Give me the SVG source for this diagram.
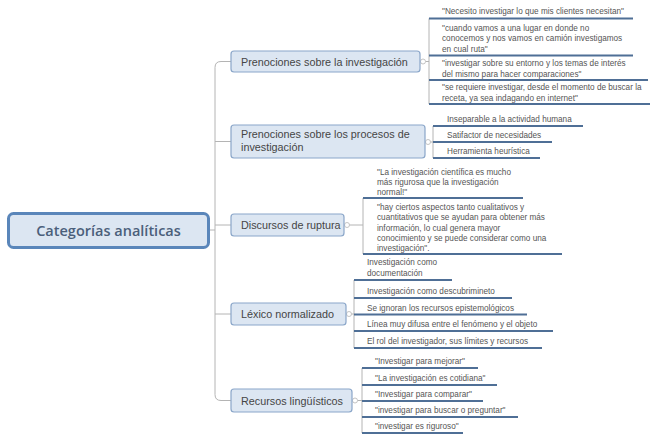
<svg xmlns="http://www.w3.org/2000/svg" width="655" height="435" viewBox="0 0 655 435">
<style>
.bg{fill:#ffffff}
.root rect{fill:#dce6f2;stroke:#5a86ba;stroke-width:3}
.root text{font-family:"Open Sans","Liberation Sans",sans-serif;font-weight:600;font-size:14.5px;fill:#4b5f7b;text-anchor:middle}
.br rect{fill:#dce6f2;stroke:#8aa6c9;stroke-width:1.2}
.br text{font-family:"Liberation Sans","Open Sans",sans-serif;font-size:10.8px;fill:#454545}
.lf text{font-family:"Liberation Sans","Open Sans",sans-serif;font-size:8.2px;fill:#555555}
.lf line{stroke:#4f6f96;stroke-width:2}
.con path,.con line{fill:none;stroke:#b4b4b4;stroke-width:1}
.con circle{fill:#ffffff;stroke:#c4c4c4;stroke-width:1}
</style>
<rect class="bg" x="0" y="0" width="655" height="435"/>
<g id="connectors" class="con">
  <line x1="209" y1="230" x2="215" y2="230"/>
  <path d="M231 61.5 H221 Q215 61.5 215 67.5 V394.5 Q215 400.5 221 400.5 H231"/>
  <line x1="215" y1="141.5" x2="231" y2="141.5"/>
  <line x1="215" y1="225" x2="231" y2="225"/>
  <line x1="215" y1="314" x2="231" y2="314"/>
  <line x1="423" y1="61.5" x2="429" y2="61.5"/>
  <line x1="429" y1="18.5" x2="429" y2="104"/>
  <circle cx="423" cy="61.5" r="2.5"/>
  <line x1="428" y1="142" x2="433" y2="142"/>
  <line x1="433" y1="126" x2="433" y2="158"/>
  <circle cx="428" cy="142" r="2.5"/>
  <line x1="347" y1="225" x2="363" y2="225"/>
  <line x1="363" y1="198" x2="363" y2="254"/>
  <circle cx="347" cy="225" r="2.5"/>
  <line x1="349" y1="314" x2="354" y2="314"/>
  <line x1="354" y1="280" x2="354" y2="348"/>
  <circle cx="349" cy="314" r="2.5"/>
  <line x1="355" y1="400.5" x2="362" y2="400.5"/>
  <line x1="362" y1="368" x2="362" y2="433"/>
  <circle cx="355" cy="400.5" r="2.5"/>
</g>
<g id="root" class="root">
  <rect x="8.5" y="213.5" width="200" height="34" rx="5"/>
  <text x="108.5" y="235.5">Categorías analíticas</text>
</g>
<g id="b1" class="br">
  <rect x="231" y="51" width="189" height="21" rx="3"/>
  <text x="241" y="65.5">Prenociones sobre la investigación</text>
</g>
<g id="b2" class="br">
  <rect x="231" y="125" width="194" height="33" rx="3"/>
  <text x="241" y="138">Prenociones sobre los procesos de</text>
  <text x="241" y="151">investigación</text>
</g>
<g id="b3" class="br">
  <rect x="231" y="214" width="113" height="22" rx="3"/>
  <text x="241" y="229">Discursos de ruptura</text>
</g>
<g id="b4" class="br">
  <rect x="231" y="303" width="115" height="22" rx="3"/>
  <text x="241" y="318">Léxico normalizado</text>
</g>
<g id="b5" class="br">
  <rect x="231" y="389" width="121" height="23" rx="3"/>
  <text x="241" y="404.5">Recursos lingüísticos</text>
</g>
<g id="l1a" class="lf"><text x="442" y="14">"Necesito investigar lo que mis clientes necesitan"</text><line x1="429" y1="18.5" x2="633" y2="18.5"/></g>
<g id="l1b" class="lf"><text x="442" y="30.5">"cuando vamos a una lugar en donde no</text><text x="442" y="41">conocemos y nos vamos en camión investigamos</text><text x="442" y="51.5">en cual ruta"</text><line x1="429" y1="55.5" x2="633" y2="55.5"/></g>
<g id="l1c" class="lf"><text x="442" y="66">"investigar sobre su entorno y los temas de interés</text><text x="442" y="76.5">del mismo para hacer comparaciones"</text><line x1="429" y1="80" x2="648" y2="80"/></g>
<g id="l1d" class="lf"><text x="442" y="90">"se requiere investigar, desde el momento de buscar la</text><text x="442" y="100.5">receta, ya sea indagando en internet"</text><line x1="429" y1="104" x2="650" y2="104"/></g>
<g id="l2a" class="lf"><text x="447" y="122">Inseparable a la actividad humana</text><line x1="433" y1="126" x2="583" y2="126"/></g>
<g id="l2b" class="lf"><text x="447" y="138">Satifactor de necesidades</text><line x1="433" y1="142" x2="552" y2="142"/></g>
<g id="l2c" class="lf"><text x="447" y="154">Herramienta heurística</text><line x1="433" y1="158" x2="540" y2="158"/></g>
<g id="l3a" class="lf"><text x="377" y="175">"La investigación científica es mucho</text><text x="377" y="185">más rigurosa que la investigación</text><text x="377" y="195">normal!"</text><line x1="363" y1="198" x2="523" y2="198"/></g>
<g id="l3b" class="lf"><text x="377" y="209.5">"hay ciertos aspectos tanto cualitativos y</text><text x="377" y="220">cuantitativos que se ayudan para obtener más</text><text x="377" y="230.5">información, lo cual genera mayor</text><text x="377" y="241">conocimiento y se puede considerar como una</text><text x="377" y="251">investigación".</text><line x1="363" y1="254" x2="562" y2="254"/></g>
<g id="l4a" class="lf"><text x="367" y="265">Investigación como</text><text x="367" y="276">documentación</text><line x1="354" y1="280" x2="452" y2="280"/></g>
<g id="l4b" class="lf"><text x="367" y="294">Investigación como descubrimineto</text><line x1="354" y1="298" x2="512" y2="298"/></g>
<g id="l4c" class="lf"><text x="367" y="310.5">Se ignoran los recursos epistemológicos</text><line x1="354" y1="314.5" x2="527" y2="314.5"/></g>
<g id="l4d" class="lf"><text x="367" y="327">Línea muy difusa entre el fenómeno y el objeto</text><line x1="354" y1="331" x2="553" y2="331"/></g>
<g id="l4e" class="lf"><text x="367" y="344">El rol del investigador, sus límites y recursos</text><line x1="354" y1="348" x2="542" y2="348"/></g>
<g id="l5a" class="lf"><text x="375" y="364">"Investigar para mejorar"</text><line x1="362" y1="368" x2="478" y2="368"/></g>
<g id="l5b" class="lf"><text x="375" y="381">"La investigación es cotidiana"</text><line x1="362" y1="385" x2="497" y2="385"/></g>
<g id="l5c" class="lf"><text x="375" y="397">"Investigar para comparar"</text><line x1="362" y1="401" x2="483" y2="401"/></g>
<g id="l5d" class="lf"><text x="375" y="413">"investigar para buscar o preguntar"</text><line x1="362" y1="417" x2="518" y2="417"/></g>
<g id="l5e" class="lf"><text x="375" y="429">"investigar es riguroso"</text><line x1="362" y1="433" x2="463" y2="433"/></g>
</svg>
